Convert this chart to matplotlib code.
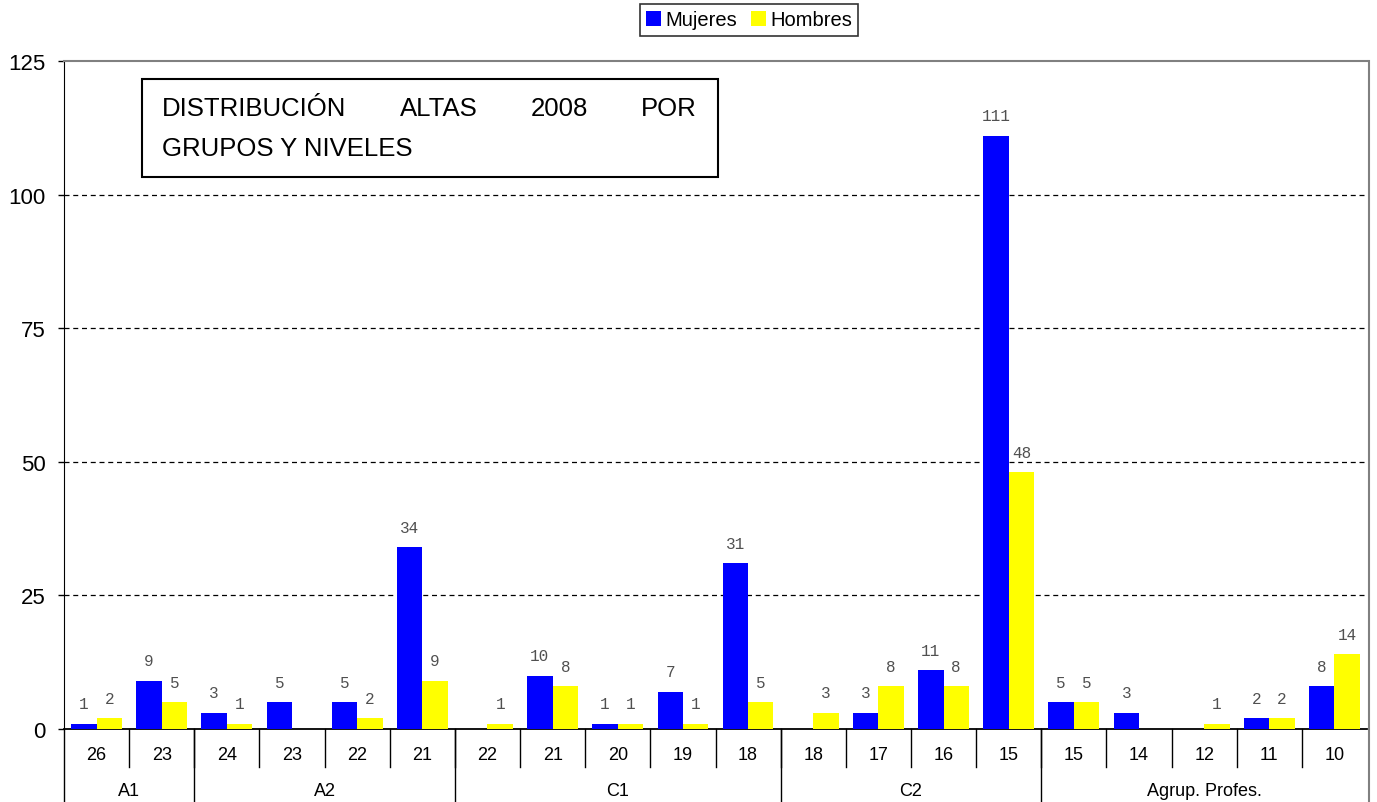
import matplotlib
matplotlib.use("Agg")
import matplotlib.pyplot as plt
import matplotlib.transforms as mtransforms
from matplotlib.patches import Rectangle, Patch
from matplotlib.lines import Line2D

# Niveles (eje X) y grupos
niveles = ["26", "23", "24", "23", "22", "21", "22", "21", "20", "19", "18",
           "18", "17", "16", "15", "15", "14", "12", "11", "10"]
grupos = ["A1", "A2", "C1", "C2", "Agrup. Profes."]
grupo_tam = [2, 4, 5, 4, 5]

mujeres = [1, 9, 3, 5, 5, 34, 0, 10, 1, 7, 31, 0, 3, 11, 111, 5, 3, 0, 2, 8]
hombres = [2, 5, 1, 0, 2, 9, 1, 8, 1, 1, 5, 3, 8, 8, 48, 5, 0, 1, 2, 14]

yticks = [0, 25, 50, 75, 100, 125]
titulo_l1 = ["DISTRIBUCIÓN", "ALTAS", "2008", "POR"]
titulo_l2 = "GRUPOS Y NIVELES"

AZUL = "#0000FF"
AMARILLO = "#FFFF00"
W, H = 1377, 803

plt.rcParams["font.family"] = ["Liberation Sans", "DejaVu Sans"]
fig = plt.figure(figsize=(W / 100, H / 100), dpi=100)
ax = fig.add_axes([64 / W, 1 - 730 / H, (1367 - 64) / W, (730 - 62) / H])

n = len(niveles)
x = list(range(n))
bw = 0.39

for i in x:
    if mujeres[i] > 0:
        ax.bar(i - bw / 2, mujeres[i], width=bw, color=AZUL, zorder=3)
        ax.annotate(str(mujeres[i]), (i - bw / 2, mujeres[i]), xytext=(0, 9),
                    textcoords="offset points", ha="center", va="bottom",
                    fontsize=11.5, family="Liberation Mono", color="#505050")
    if hombres[i] > 0:
        ax.bar(i + bw / 2, hombres[i], width=bw, color=AMARILLO, zorder=3)
        ax.annotate(str(hombres[i]), (i + bw / 2, hombres[i]), xytext=(0, 9),
                    textcoords="offset points", ha="center", va="bottom",
                    fontsize=11.5, family="Liberation Mono", color="#505050")

ax.set_xlim(-0.5, n - 0.5)
ax.set_ylim(0, 125)
ax.set_yticks(yticks)
ax.set_yticklabels([str(v) for v in yticks], fontsize=16)
ax.tick_params(axis="y", direction="out", length=4, width=1, pad=9)
ax.set_xticks([])

for v in yticks[1:-1]:
    ax.axhline(v, color="black", lw=0.9, ls=(0, (4, 3)), zorder=1)

ax.spines["left"].set_color("black")
ax.spines["bottom"].set_color("black")
ax.spines["bottom"].set_linewidth(1.3)
ax.spines["top"].set_color("#808080")
ax.spines["top"].set_linewidth(1.5)
ax.spines["right"].set_visible(False)

# Etiquetas de categorías en dos filas
trans = mtransforms.blended_transform_factory(ax.transData, ax.transAxes)
axh = 730 - 62
row1 = -(768 - 730) / axh
row2 = -(803 - 730) / axh
y_niv = -(756 - 730) / axh
y_grp = -(792 - 730) / axh

bordes = [-0.5]
acc = -0.5
for t in grupo_tam:
    acc += t
    bordes.append(acc)

for i in x:
    ax.text(i, y_niv, niveles[i], transform=trans, ha="center", va="center",
            fontsize=13)
for b in range(1, n):
    xb = b - 0.5
    ax.add_line(Line2D([xb, xb], [0, row1], transform=trans, color="black",
                       lw=1, clip_on=False))
for xb in bordes[:-1]:
    ax.add_line(Line2D([xb, xb], [0, row2], transform=trans, color="black",
                       lw=1, clip_on=False))
for k, g in enumerate(grupos):
    c = (bordes[k] + bordes[k + 1]) / 2
    ax.text(c, y_grp, g, transform=trans, ha="center", va="center", fontsize=13)

# Borde derecho del área del gráfico
fig.add_artist(Line2D([1369 / W, 1369 / W], [0, 1 - 62 / H],
                      transform=fig.transFigure, color="#808080", lw=1.5))

# Cuadro de título
fig.add_artist(Rectangle((142 / W, 1 - 178 / H), 576 / W, 98 / H,
                         transform=fig.transFigure, fill=False,
                         edgecolor="black", lw=1.5, zorder=5))
fig.canvas.draw()
renderer = fig.canvas.get_renderer()
x_ini, x_fin = 162, 697
palabras = []
for wd in titulo_l1:
    t = fig.text(0, 1 - 109 / H, wd, fontsize=18.5, ha="left", va="center")
    palabras.append(t)
anchos = [t.get_window_extent(renderer).width for t in palabras]
hueco = (x_fin - x_ini - sum(anchos)) / (len(palabras) - 1)
pos = x_ini
for t, a in zip(palabras, anchos):
    t.set_x(pos / W)
    pos += a + hueco
fig.text(x_ini / W, 1 - 149 / H, titulo_l2, fontsize=18.5, ha="left", va="center")

# Leyenda
handles = [Patch(facecolor=AZUL, edgecolor="none", label="Mujeres"),
           Patch(facecolor=AMARILLO, edgecolor="none", label="Hombres")]
leg = fig.legend(handles=handles, loc="center", ncol=2,
                 bbox_to_anchor=(749 / W, 1 - 21 / H), fontsize=14.5,
                 frameon=True, fancybox=False, handlelength=0.75,
                 handleheight=0.75, handletextpad=0.2, columnspacing=0.7,
                 borderpad=0.3, borderaxespad=0)
leg.get_frame().set_edgecolor("black")
leg.get_frame().set_linewidth(1.2)

fig.savefig("out.png", dpi=100)
